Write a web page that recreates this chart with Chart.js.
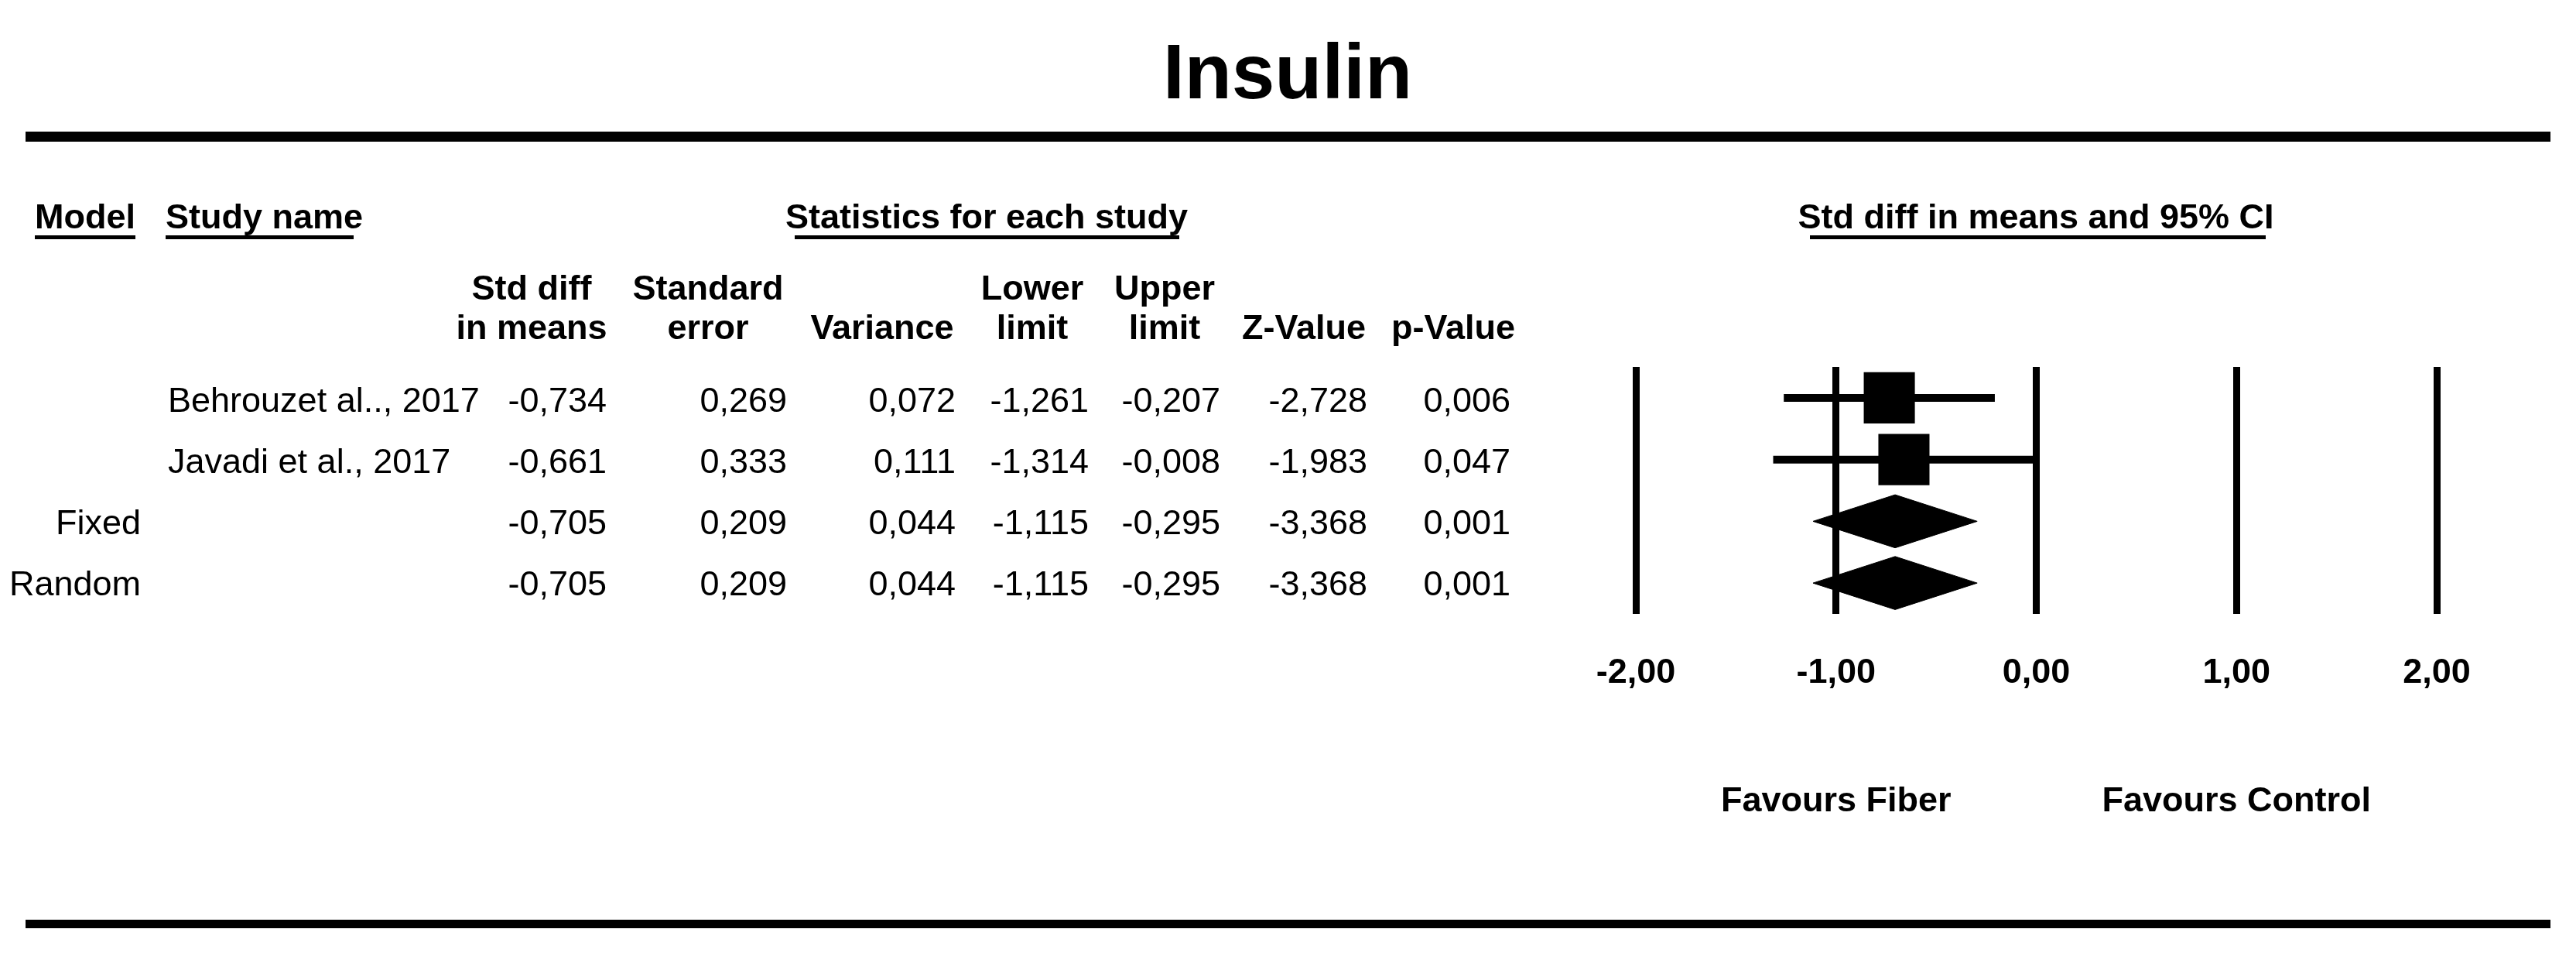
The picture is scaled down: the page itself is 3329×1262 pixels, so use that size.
<!DOCTYPE html>
<html>
<head>
<meta charset="utf-8">
<script src="https://cdn.jsdelivr.net/npm/chart.js@4"></script>
<style>
  body { margin: 0; background: #fff; }
  #page { position: relative; width: 3329px; height: 1262px; background: #fff; overflow: hidden;
          font-family: 'Liberation Sans', Arial, sans-serif; color: #000; }
  #page canvas { position: absolute; left: 0; top: 0; }
  .t { position: absolute; white-space: nowrap; line-height: 1; }
  .b { font-weight: bold; }
  .rule { position: absolute; background: #000; }
</style>
</head>
<body>
<div id="page">
  <canvas id="forest" width="3329" height="1262"></canvas>
</div>
<script>
// data
var models = ['', '', 'Fixed', 'Random'];
var studies = ['Behrouzet al.., 2017', 'Javadi et al., 2017', '', ''];
var stdDiff = [-0.734, -0.661, -0.705, -0.705];
var stdErr = [0.269, 0.333, 0.209, 0.209];
var variance = [0.072, 0.111, 0.044, 0.044];
var lower = [-1.261, -1.314, -1.115, -1.115];
var upper = [-0.207, -0.008, -0.295, -0.295];
var zValue = [-2.728, -1.983, -3.368, -3.368];
var pValue = [0.006, 0.047, 0.001, 0.001];
var xTicks = [-2, -1, 0, 1, 2];
var favours = ['Favours Fiber', 'Favours Control'];
var favoursAt = [-1, 1];

var colHead1 = ['Std diff', 'Standard', '', 'Lower', 'Upper', '', ''];
var colHead2 = ['in means', 'error', 'Variance', 'limit', 'limit', 'Z-Value', 'p-Value'];

var page = document.getElementById('page');
function comma(v, d) { return v.toFixed(d).replace('.', ','); }

// put text with its baseline at y
function txt(s, x, y, align, size, bold) {
  var d = document.createElement('div');
  d.className = 't' + (bold ? ' b' : '');
  d.textContent = s;
  d.style.fontSize = size + 'px';
  d.style.left = x + 'px';
  d.style.top = (y - size * 0.8465) + 'px';
  if (align == 'center') d.style.transform = 'translateX(-50%)';
  if (align == 'right') d.style.transform = 'translateX(-100%)';
  page.appendChild(d);
}
function rule(x1, x2, y, h) {
  var d = document.createElement('div');
  d.className = 'rule';
  d.style.left = x1 + 'px'; d.style.width = (x2 - x1) + 'px';
  d.style.top = y + 'px'; d.style.height = h + 'px';
  page.appendChild(d);
}

txt('Insulin', 1664, 127, 'center', 100, true);
rule(33, 3296, 170, 13);
rule(33, 3296, 1188, 11);

txt('Model', 45, 295, 'left', 45, true);
txt('Study name', 214, 295, 'left', 45, true);
txt('Statistics for each study', 1275, 295, 'center', 45, true);
txt('Std diff in means and 95% CI', 2631, 295, 'center', 45, true);
rule(45, 175, 304, 5);
rule(214, 457, 304, 5);
rule(1027, 1524, 304, 5);
rule(2339, 2928, 304, 5);

var headX = [687, 915, 1140, 1334, 1505, 1685, 1878];
var colRight = [784, 1017, 1235, 1407, 1577, 1767, 1952];
for (var c = 0; c < headX.length; c++) {
  if (colHead1[c]) txt(colHead1[c], headX[c], 387, 'center', 45, true);
  txt(colHead2[c], headX[c], 438, 'center', 45, true);
}

var rowBase = [532, 611, 690, 769];
for (var i = 0; i < models.length; i++) {
  if (models[i]) txt(models[i], 182, rowBase[i], 'right', 45, false);
  if (studies[i]) txt(studies[i], 217, rowBase[i], 'left', 45, false);
  var cells = [comma(stdDiff[i], 3), comma(stdErr[i], 3), comma(variance[i], 3), comma(lower[i], 3),
               comma(upper[i], 3), comma(zValue[i], 3), comma(pValue[i], 3)];
  for (var c = 0; c < cells.length; c++) txt(cells[c], colRight[c], rowBase[i], 'right', 45, false);
}

// forest plot
var datasets = [];
var boxes = [];
for (var i = 0; i < models.length; i++) {
  var r = i + 1;
  if (!models[i]) {
    datasets.push({
      type: 'line', data: [{x: lower[i], y: r}, {x: upper[i], y: r}],
      borderColor: '#000', borderWidth: 10, pointRadius: 0, borderCapStyle: 'butt', fill: false
    });
    boxes.push({x: stdDiff[i], y: r});
  } else {
    var h = 0.43;
    datasets.push({
      type: 'line',
      data: [{x: lower[i], y: r}, {x: stdDiff[i], y: r - h}, {x: upper[i], y: r},
             {x: stdDiff[i], y: r + h}, {x: lower[i], y: r}],
      borderColor: '#000', borderWidth: 1, backgroundColor: '#000', pointRadius: 0,
      fill: 'shape', tension: 0
    });
  }
}
datasets.push({
  type: 'scatter', data: boxes, pointStyle: 'rect', pointRadius: 46.7,
  backgroundColor: '#000', borderWidth: 0
});

var chart = new Chart(document.getElementById('forest'), {
  type: 'scatter',
  data: { datasets: datasets },
  options: {
    responsive: false,
    animation: false,
    devicePixelRatio: 1,
    layout: { padding: { left: 2114, right: 180, top: 474, bottom: 349 } },
    plugins: { legend: { display: false }, tooltip: { enabled: false } },
    scales: {
      x: {
        type: 'linear', min: xTicks[0], max: xTicks[xTicks.length - 1],
        afterBuildTicks: function (s) { s.ticks = xTicks.map(function (v) { return {value: v}; }); },
        afterFit: function (s) { s.height = 120; },
        grid: { color: '#000', lineWidth: 9, drawTicks: false },
        border: { display: false },
        ticks: {
          padding: 50, color: '#000',
          font: { family: "'Liberation Sans', Arial, sans-serif", size: 45, weight: 'bold' },
          callback: function (v) { return comma(v, 2); }
        }
      },
      y: { type: 'linear', min: 0.5, max: 4.5, reverse: true, display: false }
    }
  }
});

var xs = chart.scales.x;
for (var k = 0; k < favours.length; k++) {
  txt(favours[k], xs.getPixelForValue(favoursAt[k]), 1048, 'center', 45, true);
}
</script>
</body>
</html>
